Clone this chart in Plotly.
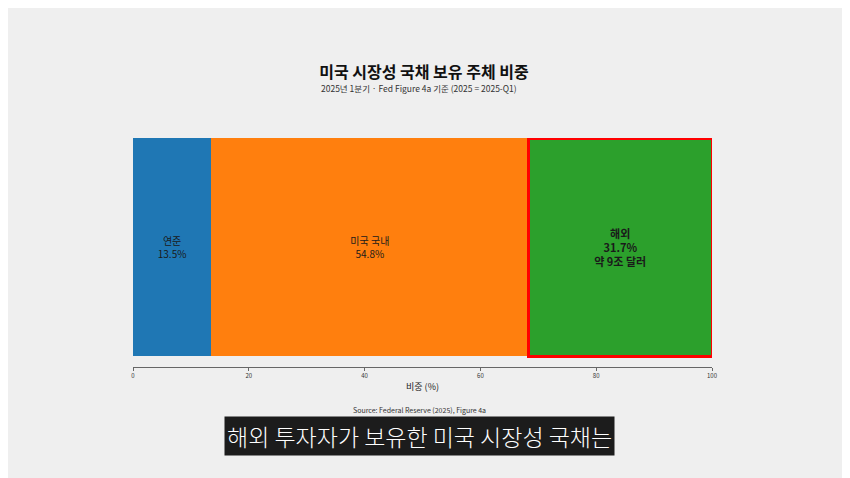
import plotly.graph_objects as go

# 2025-Q1 holders of marketable Treasuries (% share)
holders = ["연준", "미국 국내", "해외"]
shares = [13.5, 54.8, 31.7]
extra_notes = ["", "", "<br>약 9조 달러"]
bar_colors = ["#1f77b4", "#ff7f0e", "#2ca02c"]
tick_values = [0, 20, 40, 60, 80, 100]

FONT = "Noto Sans CJK KR"

fig = go.Figure()
for name, val, note, color in zip(holders, shares, extra_notes, bar_colors):
    highlight = name == "해외"
    label = f"{name}<br>{val}%{note}"
    if highlight:
        label = f"<b>{label}</b>"
    fig.add_trace(go.Bar(
        x=[val], y=[0], orientation="h", width=1,
        marker=dict(color=color,
                    line=dict(color="#ff0000" if highlight else color,
                              width=3 if highlight else 0)),
        text=[label], textposition="inside", insidetextanchor="middle",
        textangle=0, constraintext="none",
        textfont=dict(family=FONT, size=11 if highlight else 10, color="#1a1a1a"),
        hoverinfo="skip", showlegend=False,
    ))

# page body has an 8px margin, so the figure is 8px smaller and shifted
fig.update_layout(
    width=842, height=470,
    barmode="stack",
    paper_bgcolor="#efefef",
    plot_bgcolor="#efefef",
    margin=dict(l=125, r=138, t=130, b=111),
    title=dict(text="<b>미국 시장성 국채 보유 주체 비중</b>",
               x=0.494, xanchor="center", y=1 - 64 / 470, yanchor="middle",
               font=dict(family=FONT, size=16, color="#111111")),
    xaxis=dict(range=[0, 100], tickvals=tick_values,
               showgrid=False, zeroline=False,
               showline=True, linecolor="#666666", linewidth=1,
               ticks="outside", ticklen=3, tickcolor="#666666",
               tickfont=dict(family=FONT, size=6, color="#333333"),
               title=dict(text="비중 (%)", standoff=4,
                          font=dict(family=FONT, size=9, color="#222222"))),
    yaxis=dict(range=[-0.55, 0.5], visible=False),
    annotations=[
        dict(text="2025년 1분기 · Fed Figure 4a 기준 (2025 = 2025-Q1)",
             xref="paper", yref="paper", x=0.494, y=1.218, yanchor="middle",
             showarrow=False, font=dict(family=FONT, size=8.5, color="#333333")),
        dict(text="Source: Federal Reserve (2025), Figure 4a",
             xref="paper", yref="paper", x=0.494, y=-0.188, yanchor="middle",
             showarrow=False, font=dict(family=FONT, size=7, color="#333333")),
        dict(text="해외 투자자가 보유한 미국 시장성 국채는",
             xref="paper", yref="paper", x=0.494, y=-0.301, yanchor="middle",
             showarrow=False, bgcolor="#1c1c1c", borderpad=2,
             font=dict(family=FONT, size=23, color="#ffffff", weight=300)),
    ],
)

fig.write_html("out.html")
